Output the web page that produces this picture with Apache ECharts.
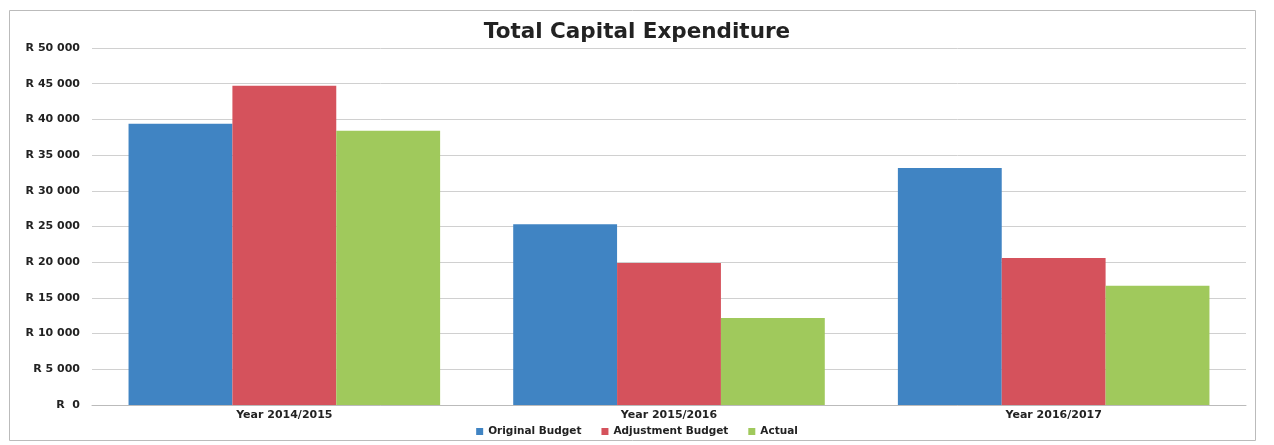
<!DOCTYPE html>
<html><head><meta charset="utf-8">
<script src="https://cdn.jsdelivr.net/npm/echarts@6/dist/echarts.min.js"></script>
<style>html,body{margin:0;padding:0;background:#fff}#c{width:1274px;height:445px}</style>
</head><body><div id="c"></div>
<script>
const categories = ['Year 2014/2015', 'Year 2015/2016', 'Year 2016/2017'];
const originalBudget = [39400, 25300, 33200];
const adjustmentBudget = [44700, 19900, 20600];
const actual = [38400, 12200, 16700];
const seriesNames = ['Original Budget', 'Adjustment Budget', 'Actual'];

function fmt(v){
  if (v === 0) return 'R  0';
  const s = String(v);
  return 'R ' + s.slice(0, s.length-3) + ' ' + s.slice(-3);
}
const chart = echarts.init(document.getElementById('c'));
const lbl = {fontFamily:'DejaVu Sans', fontWeight:'bold', fontSize:11, color:'#222'};
chart.setOption({
  animation:false,
  backgroundColor:'#fff',
  graphic:[{type:'rect', shape:{x:9.5,y:10.5,width:1246,height:430}, style:{fill:'none', stroke:'#bbb', lineWidth:1}}],
  title:{text:'Total Capital Expenditure', left:'center', top:16,
    textStyle:{fontFamily:'DejaVu Sans', fontWeight:'bold', fontSize:21.5, color:'#222'}},
  legend:{bottom:3, left:'center', itemWidth:7, itemHeight:7, itemGap:20, icon:'rect',
    textStyle:Object.assign({}, lbl, {fontSize:10.5})},
  grid:{left:92, right:28, top:48, bottom:40, containLabel:false},
  xAxis:{type:'category', data:categories,
    axisLine:{lineStyle:{color:'#bbb'}}, axisTick:{show:false},
    axisLabel:Object.assign({}, lbl, {margin:5})},
  yAxis:{type:'value', min:0, max:50000, interval:5000,
    axisLine:{show:false}, axisTick:{show:false},
    splitLine:{lineStyle:{color:'#d0d0d0'}},
    axisLabel:Object.assign({}, lbl, {margin:12, formatter:fmt})},
  series:[
    {name:seriesNames[0], type:'bar', data:originalBudget, itemStyle:{color:'#4084c3'}, barGap:'0%', barCategoryGap:'19%'},
    {name:seriesNames[1], type:'bar', data:adjustmentBudget, itemStyle:{color:'#d5525c'}},
    {name:seriesNames[2], type:'bar', data:actual, itemStyle:{color:'#a0c95c'}}
  ]
});
</script></body></html>
